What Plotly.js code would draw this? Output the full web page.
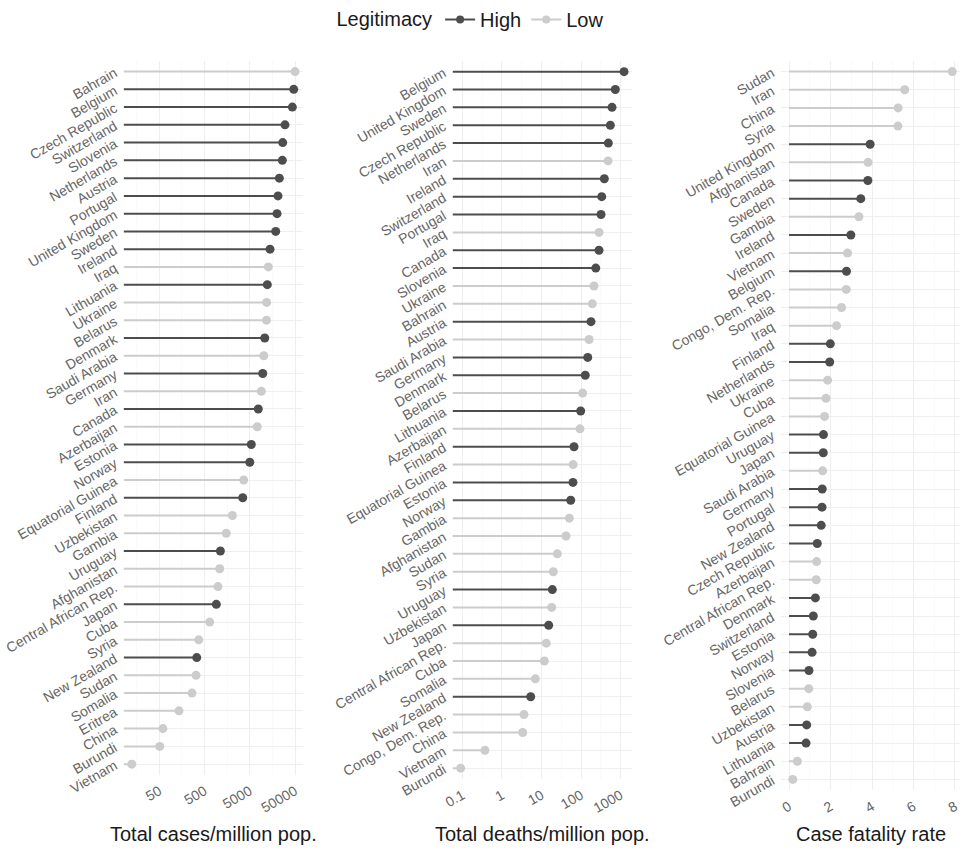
<!DOCTYPE html>
<html><head><meta charset="utf-8">
<script src="https://cdn.plot.ly/plotly-3.0.1.min.js"></script>
<style>html,body{margin:0;padding:0;background:#fff}</style>
</head><body><div id="chart" style="width:971px;height:852px"></div>
<script>
// ---- Panel 1: total cases per million population ----
const casesCountries = ["Bahrain","Belgium","Czech Republic","Switzerland","Slovenia","Netherlands","Austria","Portugal","United Kingdom","Sweden","Ireland","Iraq","Lithuania","Ukraine","Belarus","Denmark","Saudi Arabia","Germany","Iran","Canada","Azerbaijan","Estonia","Norway","Equatorial Guinea","Finland","Uzbekistan","Gambia","Uruguay","Afghanistan","Central African Rep.","Japan","Cuba","Syria","New Zealand","Sudan","Somalia","Eritrea","China","Burundi","Vietnam"];
const casesValues = [50000,46800,43600,30000,26700,26200,22500,21000,20000,18700,14000,12850,12200,11800,11700,10700,10200,9660,9000,7700,7300,5400,5000,3670,3490,2060,1510,1120,1080,990,910,650,372,336,324,264,136,60,51,12.3];
const casesLegit = ["Low","High","High","High","High","High","High","High","High","High","High","Low","High","Low","Low","High","Low","High","Low","High","Low","High","High","Low","High","Low","Low","High","Low","Low","High","Low","Low","High","Low","Low","Low","Low","Low","Low"];

// ---- Panel 2: total deaths per million population ----
const deathsCountries = ["Belgium","United Kingdom","Sweden","Czech Republic","Netherlands","Iran","Ireland","Switzerland","Portugal","Iraq","Canada","Slovenia","Ukraine","Bahrain","Austria","Saudi Arabia","Germany","Denmark","Belarus","Lithuania","Azerbaijan","Finland","Equatorial Guinea","Estonia","Norway","Gambia","Afghanistan","Sudan","Syria","Uruguay","Uzbekistan","Japan","Central African Rep.","Cuba","Somalia","New Zealand","Congo, Dem. Rep.","China","Vietnam","Burundi"];
const deathsValues = [1226,738,609,552,491,483,389,334,321,286,285,236,213,193,179,160,148,128,110,98,94,66.5,63,62.5,54.8,50.6,41.7,25.1,19.9,18.8,18.1,15.2,13.2,11.8,7.0,5.33,3.6,3.34,0.37,0.09];
const deathsLegit = ["High","High","High","High","High","Low","High","High","High","Low","High","High","Low","Low","High","Low","High","High","Low","High","Low","High","Low","High","High","Low","Low","Low","Low","High","Low","High","Low","Low","Low","High","Low","Low","Low","Low"];

// ---- Panel 3: case fatality rate ----
const cfrCountries = ["Sudan","Iran","China","Syria","United Kingdom","Afghanistan","Canada","Sweden","Gambia","Ireland","Vietnam","Belgium","Congo, Dem. Rep.","Somalia","Iraq","Finland","Netherlands","Ukraine","Cuba","Equatorial Guinea","Uruguay","Japan","Saudi Arabia","Germany","Portugal","New Zealand","Czech Republic","Azerbaijan","Central African Rep.","Denmark","Switzerland","Estonia","Norway","Slovenia","Belarus","Uzbekistan","Austria","Lithuania","Bahrain","Burundi"];
const cfrValues = [7.87,5.58,5.26,5.25,3.91,3.81,3.80,3.46,3.37,2.98,2.82,2.77,2.76,2.53,2.29,1.99,1.96,1.86,1.78,1.71,1.66,1.65,1.62,1.60,1.59,1.55,1.36,1.33,1.31,1.27,1.17,1.14,1.11,0.96,0.95,0.88,0.85,0.82,0.40,0.18];
const cfrLegit = ["Low","Low","Low","Low","High","Low","High","High","Low","High","Low","High","Low","Low","Low","High","High","Low","Low","Low","High","High","Low","High","High","High","High","Low","Low","High","High","High","High","High","Low","Low","High","High","Low","Low"];

// ---- tick labels ----
const casesTicks = [50, 500, 5000, 50000];
const casesTickText = ["50", "500", "5000", "50000"];
const deathsTicks = [0.1, 1, 10, 100, 1000];
const deathsTickText = ["0.1", "1", "10", "100", "1000"];
const cfrTicks = [0, 2, 4, 6, 8];
const cfrTickText = ["0", "2", "4", "6", "8"];

const groups = ["High", "Low"];
const groupColors = {High: "#4D4D4D", Low: "#CCCCCC"};

const W = 971, H = 852;
const FONT = "Liberation Sans, Arial, Helvetica, sans-serif";
const TICKCOL = "#666666";
const GRID = "#EFEFEF", MINORGRID = "#F6F6F6";

function logRange(vals) {
  const lv = vals.map(v => Math.log10(v));
  const lo = Math.min(...lv), hi = Math.max(...lv), s = hi - lo;
  return [lo - 0.05 * s, hi + 0.05 * s];
}
function linRange(vals) {
  const lo = Math.min(0, ...vals), hi = Math.max(...vals), s = hi - lo;
  return [lo - 0.05 * s, hi + 0.05 * s];
}
function minorLog(major) {
  const out = [major[0] / Math.sqrt(10)];
  major.forEach(v => out.push(v * Math.sqrt(10)));
  return out;
}

const panels = [
  {cats: casesCountries, vals: casesValues, leg: casesLegit, type: "log", range: logRange(casesValues),
   ticks: casesTicks, text: casesTickText, minor: minorLog(casesTicks),
   xdom: [123.6, 303.2], ydom: [60.0, 774.7], title: "Total cases/million pop."},
  {cats: deathsCountries, vals: deathsValues, leg: deathsLegit, type: "log", range: logRange(deathsValues),
   ticks: deathsTicks, text: deathsTickText, minor: minorLog(deathsTicks),
   xdom: [452.5, 632.2], ydom: [60.0, 778.8], title: "Total deaths/million pop."},
  {cats: cfrCountries, vals: cfrValues, leg: cfrLegit, type: "linear", range: linRange(cfrValues),
   ticks: cfrTicks, text: cfrTickText, minor: [1, 3, 5, 7],
   xdom: [780.9, 960.4], ydom: [59.8, 790.2], title: "Case fatality rate"}
];

const data = [];
const layout = {
  width: W, height: H,
  margin: {l: 0, r: 0, t: 0, b: 0},
  paper_bgcolor: "#ffffff", plot_bgcolor: "#ffffff",
  font: {family: FONT, color: "#1a1a1a"},
  showlegend: true,
  legend: {
    orientation: "h", x: 0.5 - 14 / W, xanchor: "center", y: 1 - 19 / H, yanchor: "middle",
    title: {text: "Legitimacy", side: "left", font: {size: 20, color: "#1a1a1a"}},
    font: {size: 20, color: "#1a1a1a"}, itemwidth: 30, tracegroupgap: 0
  },
  annotations: []
};

panels.forEach((p, k) => {
  const sx = k === 0 ? "" : String(k + 1);
  const xa = "x" + sx, ya = "y" + sx;
  const start = p.type === "log" ? Math.pow(10, p.range[0]) : 0;
  groups.forEach(g => {
    const lx = [], ly = [], mx = [], my = [];
    p.cats.forEach((c, i) => {
      if (p.leg[i] !== g) return;
      lx.push(start, p.vals[i], null); ly.push(c, c, null);
      mx.push(p.vals[i]); my.push(c);
    });
    data.push({type: "scatter", mode: "lines", x: lx, y: ly, xaxis: xa, yaxis: ya,
      line: {color: groupColors[g], width: 2}, showlegend: false, hoverinfo: "skip", cliponaxis: false});
    data.push({type: "scatter", mode: "markers", x: mx, y: my, xaxis: xa, yaxis: ya,
      marker: {color: groupColors[g], size: 9}, showlegend: false, name: g, cliponaxis: false});
  });
  const n = p.cats.length;
  layout["xaxis" + sx] = {
    domain: [p.xdom[0] / W, p.xdom[1] / W], anchor: ya, type: p.type, range: p.range,
    tickmode: "array", tickvals: p.ticks, ticktext: p.text, tickangle: -30,
    tickfont: {size: 14, color: TICKCOL, family: FONT},
    showgrid: true, gridcolor: GRID, gridwidth: 1, zeroline: false, showline: false,
    ticks: "outside", ticklen: 2, tickcolor: "rgba(0,0,0,0)",
    minor: {tickmode: "array", tickvals: p.minor, showgrid: true, gridcolor: MINORGRID, gridwidth: 0.6, ticks: ""},
    fixedrange: true
  };
  layout["yaxis" + sx] = {
    domain: [1 - p.ydom[1] / H, 1 - p.ydom[0] / H], anchor: xa, type: "category",
    categoryorder: "array", categoryarray: p.cats, range: [n - 1 + 0.6, -0.6],
    tickangle: -30, tickfont: {size: 14, color: TICKCOL, family: FONT},
    showgrid: true, gridcolor: GRID, gridwidth: 1, zeroline: false, showline: false,
    ticks: "outside", ticklen: 5, tickcolor: "rgba(0,0,0,0)",
    fixedrange: true
  };
  layout.annotations.push({
    xref: "paper", yref: "paper", x: (p.xdom[0] + p.xdom[1]) / 2 / W, y: 1 - 834 / H,
    xanchor: "center", yanchor: "middle", showarrow: false, text: p.title,
    font: {size: 20, color: "#1a1a1a", family: FONT}
  });
});

// legend-only entries
groups.forEach(g => {
  data.push({type: "scatter", mode: "lines+markers", x: [null], y: [null], xaxis: "x", yaxis: "y",
    name: g, line: {color: groupColors[g], width: 2}, marker: {color: groupColors[g], size: 8},
    showlegend: true, hoverinfo: "skip"});
});

Plotly.newPlot("chart", data, layout, {staticPlot: true, displayModeBar: false});
</script></body></html>
